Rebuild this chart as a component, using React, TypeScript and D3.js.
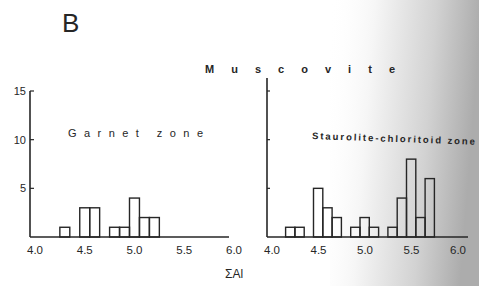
import React from "react";
import * as d3 from "d3";

// Bin lower edges (ΣAl) and counts for each zone; bin width 0.1
const garnetBins = [4.3, 4.5, 4.6, 4.8, 4.9, 5.0, 5.1, 5.2];
const garnetCounts = [1, 3, 3, 1, 1, 4, 2, 2];
const stauroBins = [4.2, 4.3, 4.5, 4.6, 4.7, 4.9, 5.0, 5.1, 5.3, 5.4, 5.5, 5.6, 5.7];
const stauroCounts = [1, 1, 5, 3, 2, 1, 2, 1, 1, 4, 8, 2, 6];
const xTicks = [4.0, 4.5, 5.0, 5.5, 6.0];
const yTicks = [5, 10, 15];
const binWidth = 0.1;

const W = 479;
const H = 286;
const ink = "#262626";

export default function App() {
  const y = d3.scaleLinear().domain([0, 15]).range([237, 91]);
  const xL = d3.scaleLinear().domain([4, 6]).range([30, 229]);
  const xR = d3.scaleLinear().domain([4, 6]).range([267, 453]);

  const bars = (bins: number[], counts: number[], x: d3.ScaleLinear<number, number>) =>
    bins.map((b, i) => (
      <rect
        key={i}
        x={x(b)}
        y={y(counts[i])}
        width={x(b + binWidth) - x(b)}
        height={y(0) - y(counts[i])}
        fill="none"
        stroke={ink}
        strokeWidth={1.4}
      />
    ));

  return (
    <svg
      width={W}
      height={H}
      style={{ position: "absolute", left: 0, top: 0, background: "#fff" }}
      fontFamily="'Liberation Sans', Arial, sans-serif"
    >
      <defs>
        <linearGradient id="scan" x1="0" x2="1" y1="0" y2="0.15">
          <stop offset="0" stopColor="#ffffff" stopOpacity={0} />
          <stop offset="0.3" stopColor="#f6f6f6" stopOpacity={1} />
          <stop offset="0.7" stopColor="#d2d2d2" />
          <stop offset="1" stopColor="#acacac" />
        </linearGradient>
      </defs>
      <rect x={330} y={0} width={149} height={H} fill="url(#scan)" />

      <text x={62} y={32} fontSize={26} fill={ink}>B</text>
      <text x={205} y={73} fontSize={11} fontWeight="bold" fill={ink} textLength={190} lengthAdjust="spacing">Muscovite</text>

      {/* Left panel */}
      <line x1={30} x2={30} y1={y(15)} y2={y(0)} stroke={ink} strokeWidth={1.6} />
      <line x1={30} x2={229} y1={y(0)} y2={y(0)} stroke={ink} strokeWidth={1.6} />
      {yTicks.map((t) => (
        <g key={t}>
          <line x1={30} x2={34} y1={y(t)} y2={y(t)} stroke={ink} strokeWidth={1.2} />
          <text x={26} y={y(t) + 4} fontSize={11} textAnchor="end" fill={ink}>{t}</text>
        </g>
      ))}
      {xTicks.map((t) => (
        <text key={t} x={xL(t) + 5} y={254} fontSize={11.5} textAnchor="middle" fill={ink}>{t.toFixed(1)}</text>
      ))}
      {bars(garnetBins, garnetCounts, xL)}
      <text x={68} y={137} fontSize={11} fill={ink} textLength={135} lengthAdjust="spacing">Garnet zone</text>

      {/* Right panel */}
      <line x1={267} x2={267} y1={78} y2={y(0)} stroke={ink} strokeWidth={1.6} />
      {yTicks.map((t) => (
        <line key={t} x1={267} x2={270} y1={y(t)} y2={y(t)} stroke={ink} strokeWidth={1.2} />
      ))}
      <line x1={267} x2={468} y1={y(0)} y2={y(0)} stroke={ink} strokeWidth={1.6} />
      {xTicks.map((t) => (
        <text key={t} x={xR(t) + 5} y={254} fontSize={11.5} textAnchor="middle" fill={ink}>{t.toFixed(1)}</text>
      ))}
      {bars(stauroBins, stauroCounts, xR)}
      <text
        x={312}
        y={139}
        fontSize={9.5}
        fontWeight="bold"
        fill={ink}
        textLength={163}
        lengthAdjust="spacing"
        transform="rotate(2 312 139)"
      >
        Staurolite-chloritoid zone
      </text>

      <text x={225} y={278} fontSize={12} fill={ink}>ΣAl</text>
    </svg>
  );
}
